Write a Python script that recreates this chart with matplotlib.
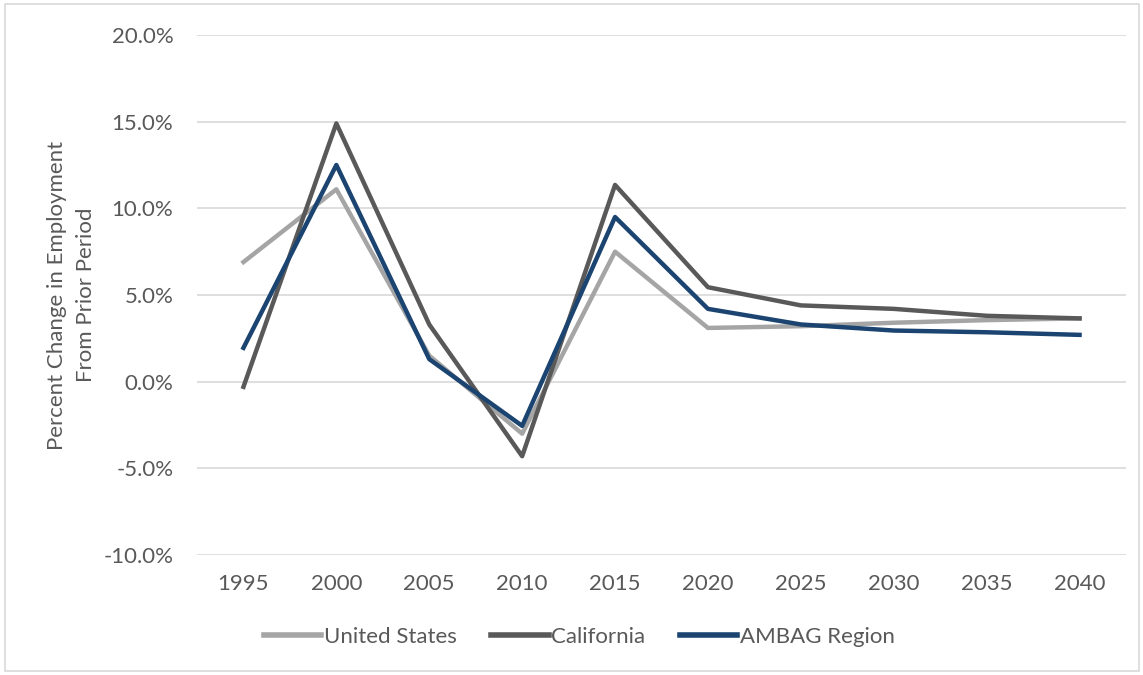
import matplotlib.pyplot as plt
from matplotlib.ticker import FuncFormatter
from matplotlib.patches import Rectangle

years = ["1995", "2000", "2005", "2010", "2015", "2020", "2025", "2030", "2035", "2040"]
united_states = [6.9, 11.1, 1.5, -3.0, 7.5, 3.1, 3.2, 3.4, 3.55, 3.65]
california = [-0.3, 14.9, 3.3, -4.3, 11.35, 5.45, 4.4, 4.2, 3.8, 3.65]
ambag = [1.95, 12.5, 1.3, -2.55, 9.5, 4.2, 3.3, 2.95, 2.85, 2.7]

plt.rcParams["font.family"] = ["Lato", "DejaVu Sans"]
TEXT = "#595959"

fig = plt.figure(figsize=(11.43, 6.75), dpi=100)
ax = fig.add_axes([197 / 1143, 1 - 555 / 675, (1126 - 197) / 1143, (555 - 35) / 675])

x = range(len(years))
ax.plot(x, united_states, color="#a5a5a5", linewidth=3.2, label="United States", zorder=3)
ax.plot(x, california, color="#595959", linewidth=3.2, label="California", zorder=4)
ax.plot(x, ambag, color="#1b4471", linewidth=3.2, label="AMBAG Region", zorder=5)

ax.set_xlim(-0.5, len(years) - 0.5)
ax.set_ylim(-10, 20)
ax.set_yticks(range(-10, 21, 5))
ax.yaxis.set_major_formatter(FuncFormatter(lambda v, p: f"{v:.1f}%"))
ax.set_xticks(list(x))
ax.set_xticklabels(years)
ax.tick_params(axis="both", length=0, labelsize=16, colors=TEXT)
ax.tick_params(axis="y", pad=17)
ax.tick_params(axis="x", pad=14)
ax.grid(True, axis="y", color="#d9d9d9", linewidth=1.2, zorder=0)
for s in ax.spines.values():
    s.set_visible(False)

ax.set_ylabel("Percent Change in Employment\nFrom Prior Period", fontsize=16, color=TEXT,
              labelpad=5, linespacing=1.6)

leg = fig.legend(loc="center", bbox_to_anchor=(579 / 1143, 1 - 637 / 675), ncol=3, frameon=False,
                 fontsize=16, handlelength=2.6, handletextpad=0.1, columnspacing=1.55)
for t in leg.get_texts():
    t.set_color(TEXT)
for h in leg.get_lines():
    h.set_linewidth(4)

fig.patches.append(Rectangle((5 / 1143, 4 / 675), 1 - 9 / 1143, 1 - 8 / 675, transform=fig.transFigure,
                             fill=False, edgecolor="#d9d9d9", linewidth=1.2))

fig.savefig("out.png", dpi=100)
